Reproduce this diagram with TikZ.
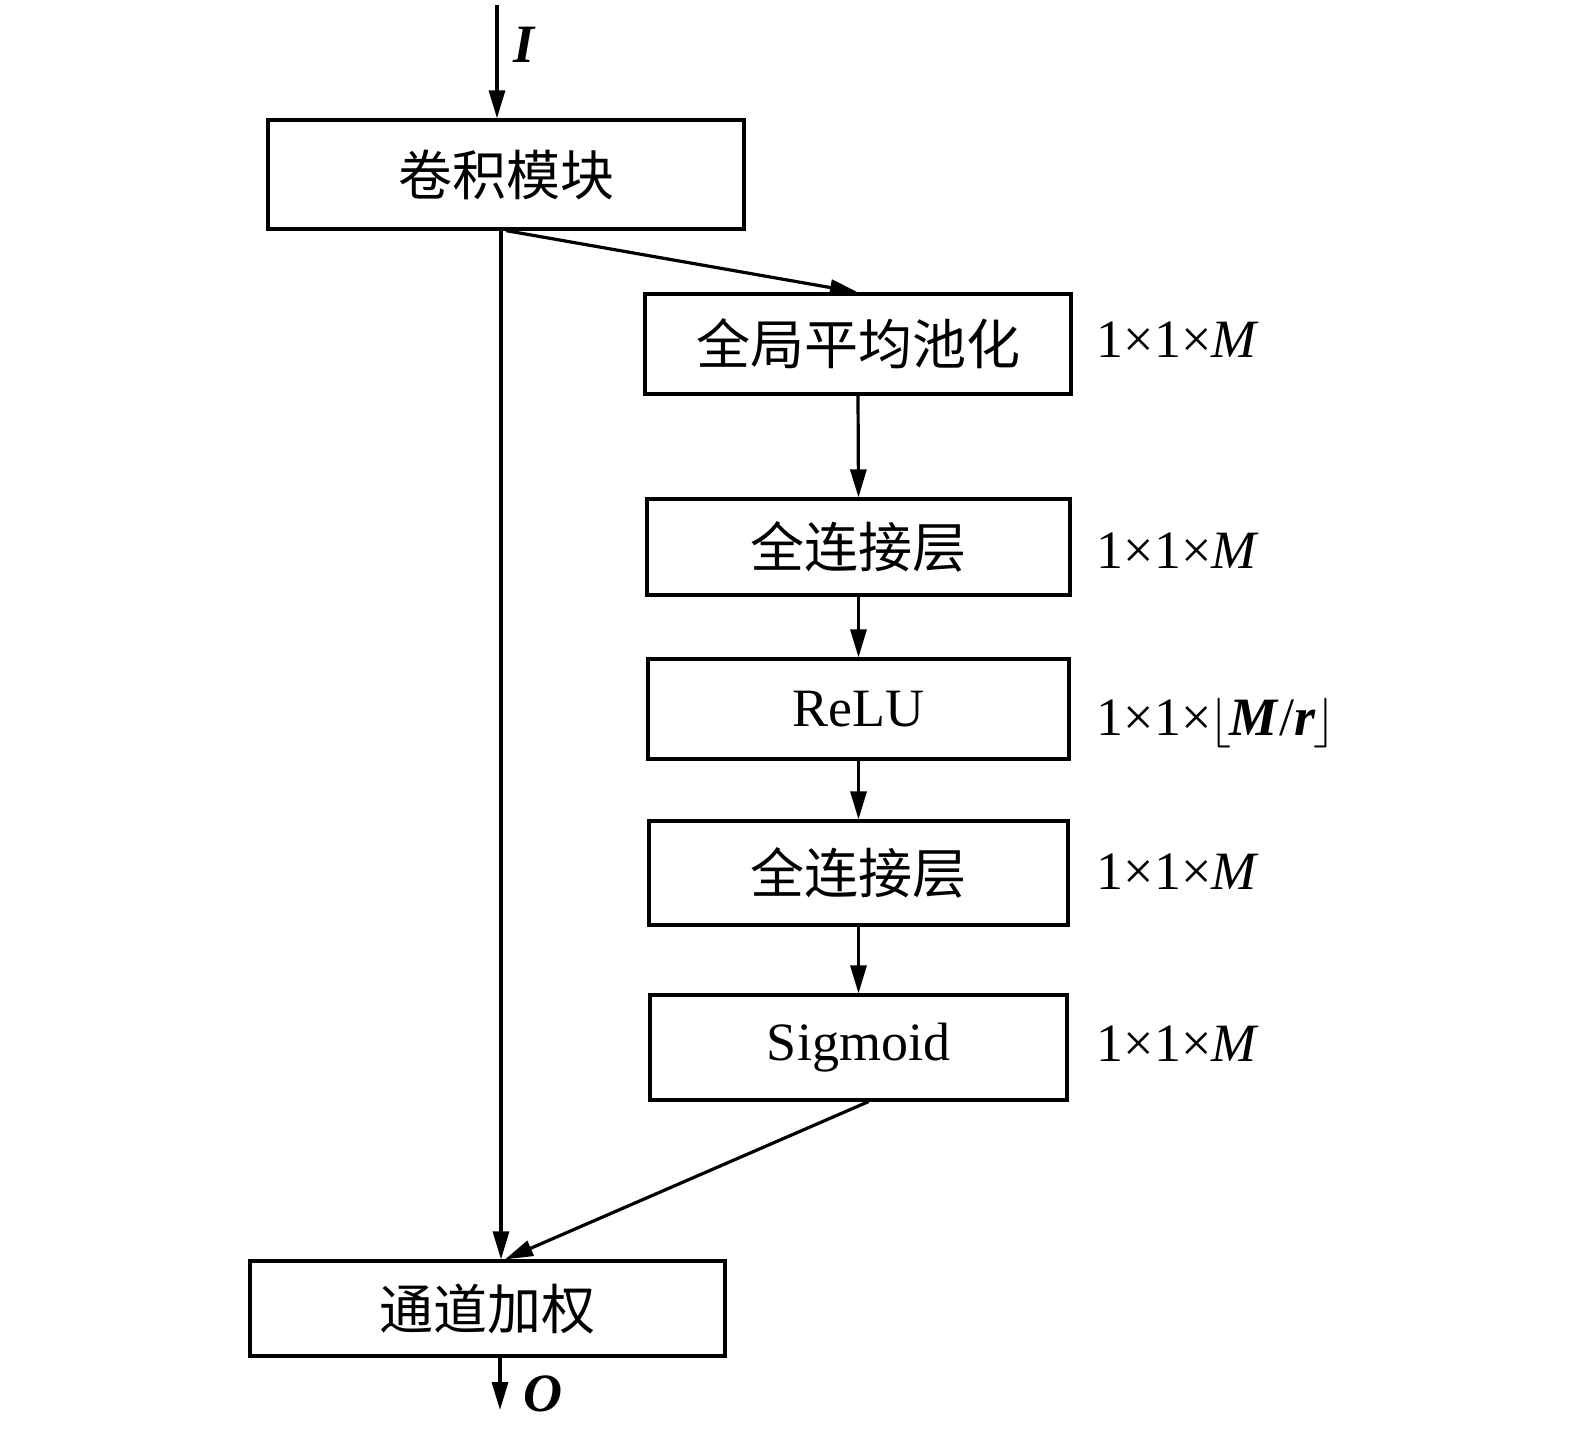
\documentclass[tikz,border=0pt]{standalone}
\usepackage{fontspec}
\setmainfont{Liberation Serif}
\newfontfamily\cjk{Noto Sans CJK SC}
\usetikzlibrary{arrows.meta}
\begin{document}
\begin{tikzpicture}[x=0.5pt,y=-0.5pt,line width=1.6pt,
  blk/.style={draw,line width=1.6pt,inner sep=0pt,font=\fontsize{27pt}{30pt}\selectfont},
  arr/.style={-{Triangle[length=14pt,width=8pt]},line width=1.6pt},
  dim/.style={anchor=base west,inner sep=0pt,font=\fontsize{27pt}{30pt}\selectfont},
  sym/.style={anchor=base west,inner sep=0pt,font=\fontsize{27pt}{30pt}\selectfont\bfseries\itshape}]
\useasboundingbox (0,0) rectangle (1575,1435);
\node[blk,minimum width=238pt,minimum height=54.5pt] (conv) at (506,174.5) {\cjk 卷积模块};
\node[blk,minimum width=213pt,minimum height=50pt] (gap) at (858,344) {\cjk 全局平均池化};
\node[blk,minimum width=211.5pt,minimum height=48pt] (fc1) at (858.5,547) {\cjk 全连接层};
\node[blk,minimum width=210.5pt,minimum height=50pt] (relu) at (858.5,709) {ReLU};
\node[blk,minimum width=209.5pt,minimum height=52pt] (fc2) at (858.5,873) {\cjk 全连接层};
\node[blk,minimum width=208.5pt,minimum height=52.5pt] (sig) at (858.5,1047.5) {Sigmoid};
\node[blk,minimum width=237.5pt,minimum height=47.5pt] (cw) at (487.5,1308.5) {\cjk 通道加权};
% dimension labels
\node[dim] (d1) at (1095,357) {1×1×\textit{M}};
\node[dim] (d2) at (1095,568) {1×1×\textit{M}};
\node[dim] (d3) at (1095,735) {1×1×\kern-1pt$\Big\lfloor$\kern-1pt\textbf{\textit{M}}/\textbf{\textit{r}}\kern-1pt$\Big\rfloor$};
\node[dim] (d4) at (1095,889) {1×1×\textit{M}};
\node[dim] (d5) at (1095,1061) {1×1×\textit{M}};
% in/out
\coordinate (in) at (497,5);
\coordinate (lft) at (501,0);
\coordinate (out) at (500,1410);
\node[sym] (ilab) at (512,62) {I};
\node[sym] (olab) at (522,1411) {O};
\draw[arr] (in) -- (in |- conv.north);
\draw[arr] (lft |- conv.south) -- (lft |- cw.north);
\draw[arr] (conv.south) -- (gap.north);
\draw[arr] (gap.south) -- (fc1.north);
\draw[arr] (fc1.south) -- (relu.north);
\draw[arr] (relu.south) -- (fc2.north);
\draw[arr] (fc2.south) -- (sig.north);
\draw[arr] ([xshift=5pt]sig.south) -- ([xshift=2pt]lft |- cw.north);
\draw[arr] (out |- cw.south) -- (out);
\end{tikzpicture}
\end{document}
